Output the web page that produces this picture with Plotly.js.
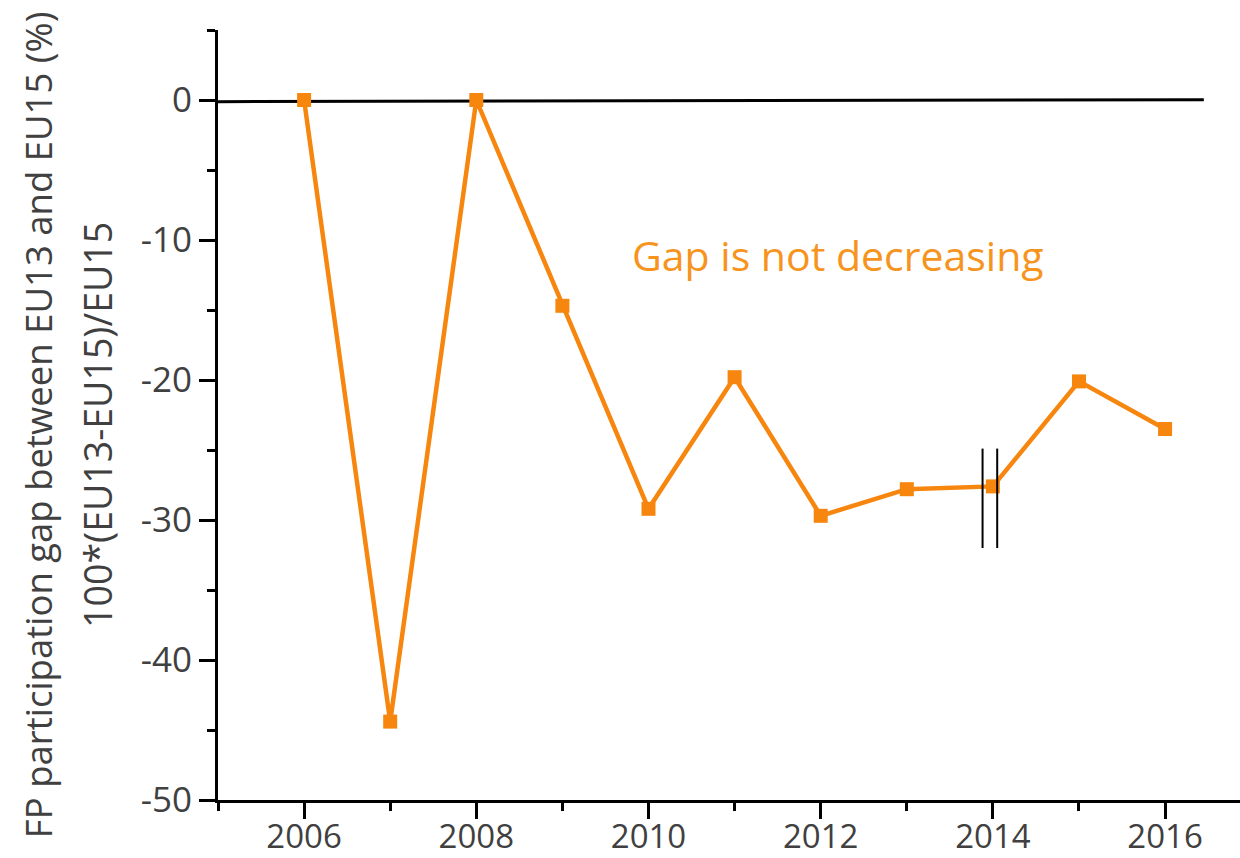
<!DOCTYPE html>
<html>
<head>
<meta charset="utf-8">
<script src="https://cdn.plot.ly/plotly-3.0.1.min.js"></script>
<style>html,body{margin:0;padding:0;background:#fff;}#chart{width:1240px;height:858px;}</style>
</head>
<body>
<div id="chart"></div>
<script>
const years = [2006, 2007, 2008, 2009, 2010, 2011, 2012, 2013, 2014, 2015, 2016];
const gap = [0, -44.4, 0, -14.7, -29.2, -19.8, -29.7, -27.8, -27.6, -20.1, -23.5];
const xTickVals = [2006, 2008, 2010, 2012, 2014, 2016];
const xTickText = ['2006', '2008', '2010', '2012', '2014', '2016'];
const yTickVals = [0, -10, -20, -30, -40, -50];
const yTickText = ['0', '-10', '-20', '-30', '-40', '-50'];
const breakYear = 2014;
const noteText = 'Gap is not decreasing';
const yTitle1 = 'FP participation gap between EU13 and EU15 (%)';
const yTitle2 = '100*(EU13-EU15)/EU15';

const orange = '#f7860f';
const font = '"Open Sans", "Liberation Sans", sans-serif';
const grey = '#404040';

const trace = {
  x: years, y: gap, type: 'scatter', mode: 'lines+markers',
  line: {color: orange, width: 4.5},
  marker: {symbol: 'square', size: 14, color: orange},
  showlegend: false, hoverinfo: 'skip'
};

const layout = {
  width: 1240, height: 858,
  margin: {l: 218, r: 0, t: 30, b: 58},
  paper_bgcolor: '#ffffff', plot_bgcolor: '#ffffff',
  font: {family: font, color: grey, size: 35},
  xaxis: {
    range: [2005, 2016.87],
    tickvals: xTickVals, ticktext: xTickText,
    ticks: 'outside', ticklen: 16, tickwidth: 3, tickcolor: '#000',
    showline: true, linecolor: '#000', linewidth: 3,
    showgrid: false, zeroline: false,
    minor: {dtick: 1, tick0: 2005, ticks: 'outside', ticklen: 8, tickwidth: 3, tickcolor: '#000', showgrid: false},
    tickfont: {size: 33, color: grey, family: font},
    ticklabelstandoff: -11
  },
  yaxis: {
    range: [-50, 5],
    tickvals: yTickVals, ticktext: yTickText,
    ticks: 'outside', ticklen: 16, tickwidth: 3, tickcolor: '#000',
    showline: true, linecolor: '#000', linewidth: 3,
    showgrid: false, zeroline: false,
    minor: {dtick: 5, tick0: 0, ticks: 'outside', ticklen: 8, tickwidth: 3, tickcolor: '#000', showgrid: false},
    tickfont: {size: 35, color: grey, family: font}
  },
  shapes: [
    {type: 'line', xref: 'x', yref: 'y', x0: 2005, x1: 2016.45, y0: -0.12, y1: 0.02, line: {color: '#000', width: 3}, layer: 'below'},
    {type: 'line', xref: 'x', yref: 'y', x0: breakYear - 0.12, x1: breakYear - 0.12, y0: -24.9, y1: -32, line: {color: '#000', width: 2}},
    {type: 'line', xref: 'x', yref: 'y', x0: breakYear + 0.05, x1: breakYear + 0.05, y0: -24.9, y1: -32, line: {color: '#000', width: 2}}
  ],
  annotations: [
    {x: 2012.2, y: -11.1, xref: 'x', yref: 'y', text: noteText, showarrow: false,
     font: {size: 41, color: '#f7941d', family: font}},
    {x: -0.176, y: 0.487, xref: 'paper', yref: 'paper', text: yTitle1, showarrow: false, textangle: -90,
     xanchor: 'center', yanchor: 'middle', font: {size: 36.5, color: grey, family: font}},
    {x: -0.1185, y: 0.487, xref: 'paper', yref: 'paper', text: yTitle2, showarrow: false, textangle: -90,
     xanchor: 'center', yanchor: 'middle', font: {size: 37.5, color: grey, family: font}}
  ]
};

Plotly.newPlot('chart', [trace], layout, {displayModeBar: false, staticPlot: true});
</script>
</body>
</html>
